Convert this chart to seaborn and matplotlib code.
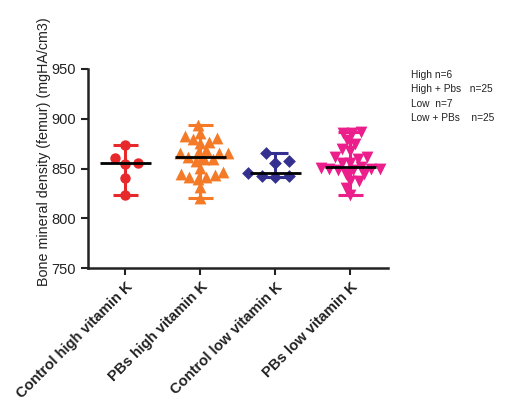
import numpy as np
import pandas as pd
import matplotlib
matplotlib.use("Agg")
import matplotlib.pyplot as plt
import seaborn as sns

categories = ["Control high vitamin K", "PBs high vitamin K",
              "Control low vitamin K", "PBs low vitamin K"]
control_high = [874, 861, 856, 855, 840, 823]
pbs_high = [894, 886, 881, 880, 883, 877, 876, 866, 866, 866, 866, 869, 862,
            860, 858, 860, 851, 846, 843, 841, 839, 841, 844, 831, 820]
control_low = [866, 858, 856, 845, 842, 842, 841]
pbs_low = [887, 886, 886, 879, 875, 870, 868, 862, 862, 860, 856, 856, 852,
           851, 850, 849, 849, 848, 848, 844, 844, 837, 837, 830, 823]
colors = ["#E8292B", "#F57A28", "#343090", "#EC1E8C"]
markers = ["o", "^", "D", "v"]
legend_lines = ["High n=6", "High + Pbs   n=25", "Low  n=7", "Low + PBs    n=25"]
ylabel = "Bone mineral density (femur) (mgHA/cm3)"
yticks = [750, 800, 850, 900, 950]

series = [control_high, pbs_high, control_low, pbs_low]
df = pd.DataFrame({
    "group": np.concatenate([[c] * len(v) for c, v in zip(categories, series)]),
    "bmd": np.concatenate(series),
})

sns.set_style("ticks")
plt.rcParams["font.family"] = ["Liberation Sans", "DejaVu Sans"]

fig = plt.figure(figsize=(5.05, 4.0), dpi=100)
ax = fig.add_axes([0.174, 0.33, 0.594, 0.4975])
ax.set_xlim(-0.5, 3.5)
ax.set_ylim(750, 950)

# layout of points via seaborn's beeswarm, then redraw at display size
swarm_sizes = [8.5, 6.0, 9.5, 6.0]
draw_sizes = [7.5, 8.5, 6.5, 8.5]
swarm_colls = []
for i, (cat, col, mk, sz) in enumerate(zip(categories, colors, markers, swarm_sizes)):
    sub = df[df["group"] == cat]
    n_before = len(ax.collections)
    sns.swarmplot(data=sub, x="group", y="bmd", order=categories, color=col,
                  marker=mk, size=sz, linewidth=0, ax=ax, zorder=3)
    swarm_colls.append(ax.collections[n_before:])
ax.set_xlim(-0.5, 3.5)
ax.set_ylim(750, 950)
fig.canvas.draw()
for i, colls in enumerate(swarm_colls):
    for coll in colls:
        offs = coll.get_offsets().copy()
        coll.remove()
        ax.scatter(offs[:, 0], offs[:, 1], s=draw_sizes[i] ** 2, marker=markers[i],
                   color=colors[i], linewidths=0, zorder=3)

for i, (cat, col) in enumerate(zip(categories, colors)):
    vals = df.loc[df["group"] == cat, "bmd"].to_numpy()
    med, lo, hi = np.median(vals), vals.min(), vals.max()
    ax.vlines(i, lo, hi, color=col, lw=2.2, zorder=4)
    ax.hlines([lo, hi], i - 0.17, i + 0.17, color=col, lw=2.2, zorder=4)
    ax.hlines(med, i - 0.34, i + 0.34, color="black", lw=2.0, zorder=5)

ax.set_xlim(-0.5, 3.5)
ax.set_ylim(750, 950)
ax.set_yticks(yticks)
ax.set_xticks(range(len(categories)))
ax.set_xticklabels(categories, rotation=45, ha="right", rotation_mode="anchor",
                   fontsize=10.6, fontweight="bold", color="#222222")
ax.tick_params(axis="y", labelsize=10.5, colors="#222222", width=1.5, length=5)
ax.tick_params(axis="x", width=1.5, length=5, colors="#222222")
ax.set_xlabel("")
ax.set_ylabel(ylabel, fontsize=10.3, color="#222222", va="center")
ax.yaxis.set_label_coords(-0.147, 0.585)
for s in ["left", "bottom"]:
    ax.spines[s].set_linewidth(1.8)
    ax.spines[s].set_color("#222222")
sns.despine(ax=ax)

for j, t in enumerate(legend_lines):
    fig.text(411 / 505, 1 - (75 + j * 14.3) / 400, t, fontsize=7.3, color="#222222",
             va="center", ha="left")

fig.savefig("out.png", dpi=100)
